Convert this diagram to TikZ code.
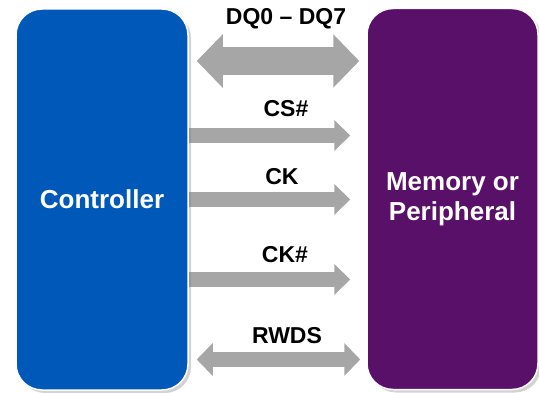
\documentclass[tikz,border=0pt]{standalone}
\usepackage{fontspec}
\setmainfont{Liberation Sans}
\usetikzlibrary{arrows.meta,positioning,calc,shadows,backgrounds}
\definecolor{ctrlblue}{RGB}{0,89,185}
\definecolor{mempurple}{RGB}{89,16,104}
\definecolor{busgray}{RGB}{166,166,166}

\begin{document}
\begin{tikzpicture}[
    x=1pt, y=-1pt,
    box/.style={rectangle, rounded corners=26pt, draw=white, line width=1.5pt, text=white, font=\fontsize{26}{30}\selectfont\bfseries, align=center, minimum width=172pt, minimum height=381pt, drop shadow={shadow xshift=3pt, shadow yshift=-3pt, opacity=0.35}},
    sig/.style={draw=busgray, line width=15pt, -{Triangle[length=16pt, width=30pt]}},
    wide/.style={line width=28pt, {Triangle[length=26pt, width=52pt]}-{Triangle[length=26pt, width=52pt]}},
    both/.style={{Triangle[length=16pt, width=32pt]}-{Triangle[length=16pt, width=32pt]}},
    lbl/.style={font=\fontsize{23}{27}\selectfont\bfseries, anchor=base}
]
\useasboundingbox (0,0) rectangle (539,393);

\node[box, fill=ctrlblue] (ctrl) at (102,199.5) {Controller};
\node[box, fill=mempurple, minimum width=171pt] (mem) at (452.5,199) {Memory or\\Peripheral};

% signal rows
\coordinate (dqrow) at (0,61);
\coordinate (csrow) at (0,135.5);
\coordinate (ckrow) at (0,199.5);
\coordinate (cknrow) at (0,279.5);
\coordinate (rwdsrow) at (0,359.5);

\node[lbl] (dqlbl) at (286,25) {DQ0 -- DQ7};
\node[lbl] (cslbl) at (286,117) {CS\#};
\node[lbl] (cklbl) at (282,185) {CK};
\node[lbl] (cknlbl) at (285,262) {CK\#};
\node[lbl] (rwdslbl) at (287,344) {RWDS};

\begin{scope}[on background layer]
\draw[sig, wide] ($(ctrl.east |- dqrow)+(8,0)$) -- ($(mem.west |- dqrow)+(-7,0)$);
\draw[sig] ($(ctrl.east |- csrow)+(-10,0)$) -- ($(mem.west |- csrow)+(-16,0)$);
\draw[sig] ($(ctrl.east |- ckrow)+(-10,0)$) -- ($(mem.west |- ckrow)+(-16,0)$);
\draw[sig] ($(ctrl.east |- cknrow)+(-10,0)$) -- ($(mem.west |- cknrow)+(-16,0)$);
\draw[sig, both] ($(ctrl.east |- rwdsrow)+(8,0)$) -- ($(mem.west |- rwdsrow)+(-6,0)$);
\end{scope}

\end{tikzpicture}
\end{document}
